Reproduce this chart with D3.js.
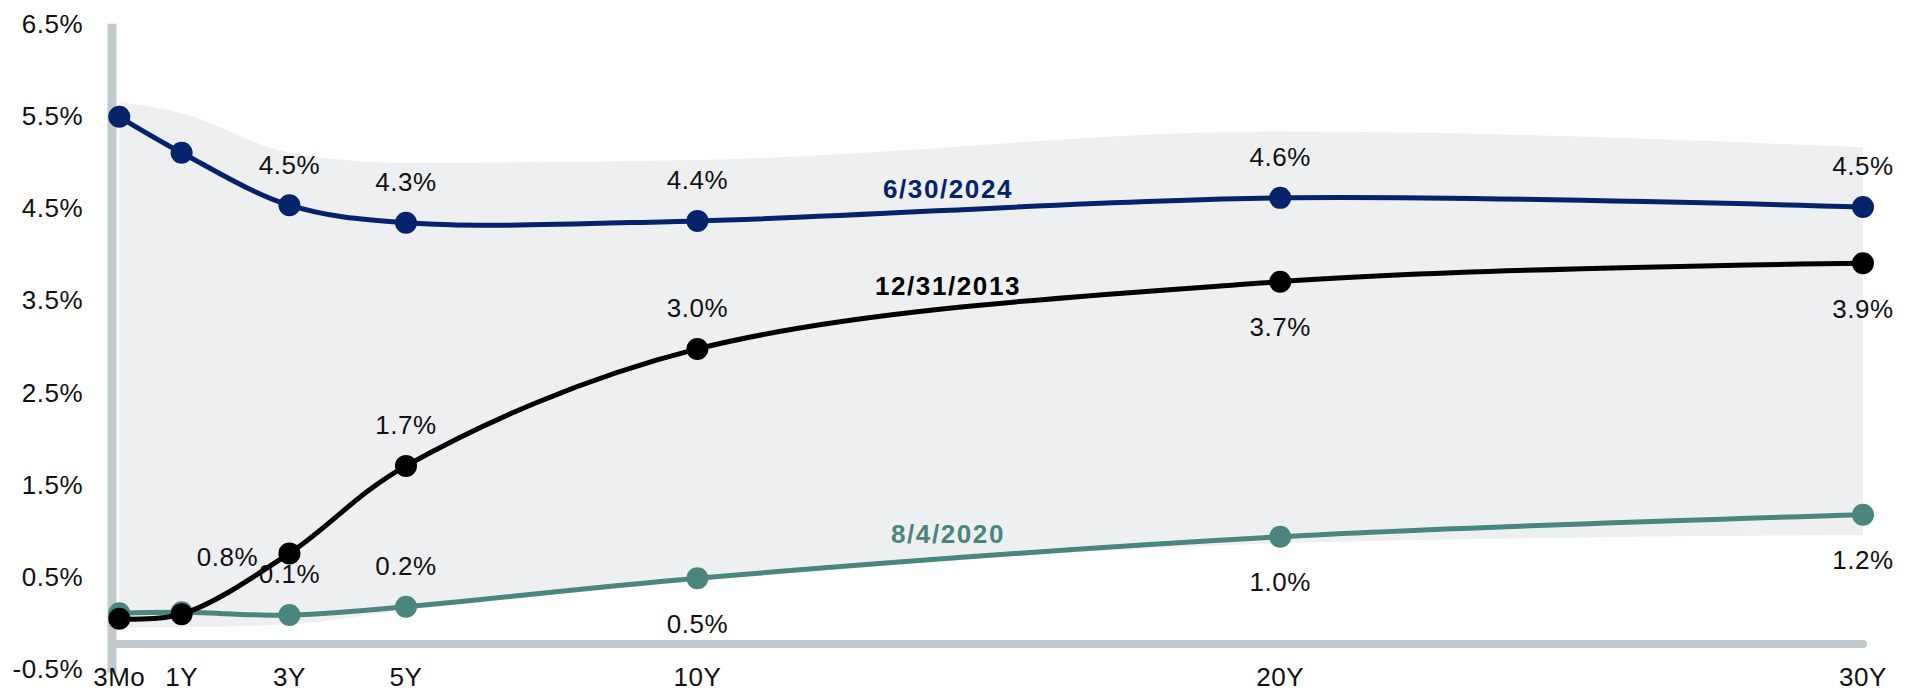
<!DOCTYPE html>
<html>
<head>
<meta charset="utf-8">
<script src="https://cdn.jsdelivr.net/npm/d3@7"></script>
<style>
  html, body { margin: 0; padding: 0; background: #fff; }
  svg { display: block; font-family: "Liberation Sans", Arial, sans-serif; }
</style>
</head>
<body>
<svg id="chart"></svg>
<script>
// tenors and where they sit on the x axis (years)
let tenors = ["3Mo", "1Y", "3Y", "5Y", "10Y", "20Y", "30Y"];
let tenorYears = [0.08, 1.15, 3, 5, 10, 20, 30];

// yields, percent
let jun2024 = [5.49, 5.10, 4.53, 4.34, 4.36, 4.61, 4.51];
let dec2013 = [0.04, 0.09, 0.75, 1.70, 2.97, 3.70, 3.90];
let aug2020 = [0.10, 0.11, 0.08, 0.17, 0.48, 0.93, 1.17];

// point labels
let jun2024Labels = ["", "", "4.5%", "4.3%", "4.4%", "4.6%", "4.5%"];
let dec2013Labels = ["", "", "0.8%", "1.7%", "3.0%", "3.7%", "3.9%"];
let aug2020Labels = ["", "", "0.1%", "0.2%", "0.5%", "1.0%", "1.2%"];

// shaded range behind the curves
let rangeHigh = [5.65, 5.53, 5.10, 4.99, 5.02, 5.33, 5.16];
let rangeLow = [-0.05, -0.05, -0.02, 0.14, 0.45, 0.86, 0.95];

let yTicks = [-0.5, 0.5, 1.5, 2.5, 3.5, 4.5, 5.5, 6.5];

let width = 1912, height = 694;

let x = d3.scaleLinear().domain([0, 30]).range([114.6, 1863]);
let y = d3.scaleLinear().domain([-0.5, 6.5]).range([668.5, 23.8]);

let svg = d3.select("#chart")
  .attr("width", width)
  .attr("height", height);

// shaded band
let band = d3.area()
  .x((d, i) => x(tenorYears[i]))
  .y0((d, i) => y(rangeLow[i]))
  .y1(d => y(d))
  .curve(d3.curveMonotoneX);

svg.append("path")
  .datum(rangeHigh)
  .attr("d", band)
  .attr("fill", "#eeeff1");

// axis bars
svg.append("line")
  .attr("x1", 112).attr("x2", 112)
  .attr("y1", y(6.5)).attr("y2", y(-0.5) + 4)
  .attr("stroke", "#c3cacd")
  .attr("stroke-width", 9);

svg.append("line")
  .attr("x1", 117).attr("x2", 1863)
  .attr("y1", 644).attr("y2", 644)
  .attr("stroke", "#c3cacd")
  .attr("stroke-width", 8)
  .attr("stroke-linecap", "round");

// y axis labels
let fmt = d => d.toFixed(1) + "%";
svg.append("g")
  .selectAll("text")
  .data(yTicks)
  .enter().append("text")
    .attr("x", 83)
    .attr("y", d => y(d))
    .attr("dy", "0.36em")
    .attr("text-anchor", "end")
    .attr("font-size", 26)
    .attr("letter-spacing", 0.5)
    .attr("fill", "#111")
    .text(fmt);

// x axis labels
svg.append("g")
  .selectAll("text")
  .data(tenors)
  .enter().append("text")
    .attr("x", (d, i) => x(tenorYears[i]))
    .attr("y", 677)
    .attr("dy", "0.36em")
    .attr("text-anchor", "middle")
    .attr("font-size", 26)
    .attr("letter-spacing", 0.5)
    .attr("fill", "#111")
    .text(d => d);

let line = d3.line()
  .x((d, i) => x(tenorYears[i]))
  .y(d => y(d))
  .curve(d3.curveCatmullRom.alpha(0.5));

let series = [
  {name: "8/4/2020", values: aug2020, labels: aug2020Labels, color: "#4a867d",
   place: ["", "", "above", "above", "below", "below", "below"], nameAt: [14.3, 0.96]},
  {name: "6/30/2024", values: jun2024, labels: jun2024Labels, color: "#05236b",
   place: ["", "", "above", "above", "above", "above", "above"], nameAt: [14.3, 4.71]},
  {name: "12/31/2013", values: dec2013, labels: dec2013Labels, color: "#000000",
   place: ["", "", "left", "above", "above", "below", "below"], nameAt: [14.3, 3.66]},
];

series.forEach(s => {
  let g = svg.append("g");

  g.append("path")
    .datum(s.values)
    .attr("d", line)
    .attr("fill", "none")
    .attr("stroke", s.color)
    .attr("stroke-width", 5);

  g.selectAll("circle")
    .data(s.values)
    .enter().append("circle")
      .attr("cx", (d, i) => x(tenorYears[i]))
      .attr("cy", d => y(d))
      .attr("r", 11)
      .attr("fill", s.color);

  g.append("text")
    .attr("x", x(s.nameAt[0]))
    .attr("y", y(s.nameAt[1]))
    .attr("dy", "0.36em")
    .attr("text-anchor", "middle")
    .attr("font-size", 26)
    .attr("font-weight", "bold")
    .attr("letter-spacing", 1.6)
    .attr("fill", s.color)
    .text(s.name);
});

// point labels drawn last so they sit on top
series.forEach(s => {
  svg.append("g")
    .selectAll("text")
    .data(s.values.map((v, i) => ({v: v, i: i, t: s.labels[i], p: s.place[i]})).filter(d => d.t))
    .enter().append("text")
      .attr("x", d => x(tenorYears[d.i]) + (d.p == "left" ? -62 : 0))
      .attr("y", d => y(d.v) + (d.p == "above" ? -41 : d.p == "below" ? 45 : 3))
      .attr("dy", "0.36em")
      .attr("text-anchor", "middle")
      .attr("font-size", 26)
      .attr("letter-spacing", 0.5)
      .attr("fill", "#111")
      .text(d => d.t);
});
</script>
</body>
</html>
